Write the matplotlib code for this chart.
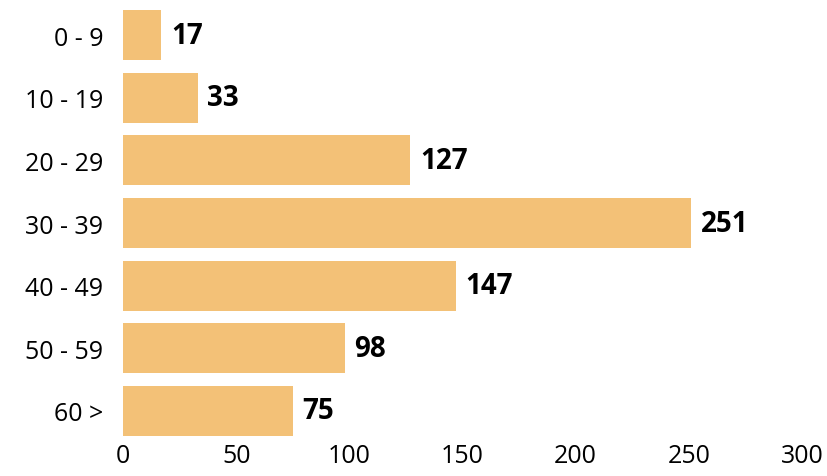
import matplotlib.pyplot as plt

# age groups and counts
age_groups = ["0 - 9", "10 - 19", "20 - 29", "30 - 39", "40 - 49", "50 - 59", "60 >"]
counts = [17, 33, 127, 251, 147, 98, 75]
x_ticks = [0, 50, 100, 150, 200, 250, 300]

bar_color = "#F3C177"

plt.rcParams['font.family'] = ['Open Sans', 'DejaVu Sans']

fig = plt.figure(figsize=(8.28, 4.77), dpi=100)
ax = fig.add_axes([123 / 828, 1 - 443 / 477, (802 - 123) / 828, (443 - 5) / 477])

ypos = list(range(len(age_groups)))
bars = ax.barh(ypos, counts, height=0.8, color=bar_color)

for bar, val in zip(bars, counts):
    ax.annotate(str(val), (bar.get_width(), bar.get_y() + bar.get_height() / 2),
                xytext=(7, 0), textcoords="offset points",
                ha="left", va="center", fontsize=20, fontweight="bold", color="black")

ax.set_xlim(0, 300)
ax.set_ylim(len(age_groups) - 0.5, -0.5)
ax.set_xticks(x_ticks)
ax.set_yticks(ypos)
ax.set_yticklabels(age_groups)
ax.tick_params(axis="both", length=0, labelsize=18, colors="black")
ax.tick_params(axis="y", pad=14)
ax.tick_params(axis="x", pad=1)
for s in ax.spines.values():
    s.set_visible(False)

fig.savefig("out.png", dpi=100)
